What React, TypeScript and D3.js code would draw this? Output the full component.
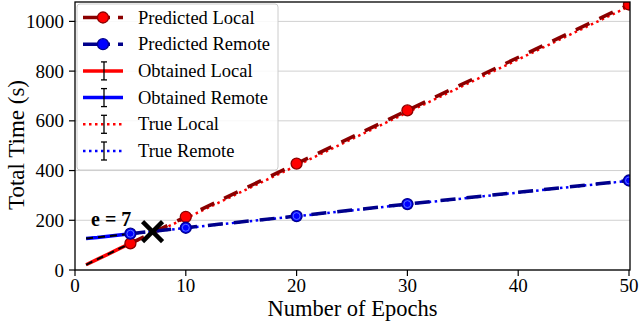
import React from 'react'
import * as d3 from 'd3'

const predEpochs = [5, 10, 20, 30, 50]
const predLocal = [107, 214, 428, 642, 1068]
const predRemote = [146, 170, 217, 265, 360]
const trueLocal = [105, 208, 420, 634, 1060]
const trueRemote = [145, 169, 216, 264, 359]
const trueErr = [4, 5, 6, 8, 10]

const obtEpochs = [1, 2, 3, 4, 5]
const obtLocal = [21, 43, 64, 86, 107]
const obtRemote = [127, 131, 136, 141, 146]

const crossEpoch = 7
const crossTime = 154

const xTicks = [0, 10, 20, 30, 40, 50]
const yTicks = [0, 200, 400, 600, 800, 1000]

const legendItems = [
    { label: 'Predicted Local', kind: 'pred', color: '#8b0000', fill: '#ff0000' },
    { label: 'Predicted Remote', kind: 'pred', color: '#00008b', fill: '#0000ff' },
    { label: 'Obtained Local', kind: 'obt', color: '#ff0000' },
    { label: 'Obtained Remote', kind: 'obt', color: '#0000ff' },
    { label: 'True Local', kind: 'true', color: '#ff0000' },
    { label: 'True Remote', kind: 'true', color: '#0000ff' },
]

const W = 640
const H = 325
const m = { left: 75, right: 630, top: 2, bottom: 270 }
const font = '"Liberation Serif", "Times New Roman", serif'

export default function App() {
    const x = d3.scaleLinear().domain([0, 50]).range([m.left, m.right - 1])
    const y = d3.scaleLinear().domain([0, 1078]).range([m.bottom, m.top])

    const line = d3
        .line<[number, number]>()
        .x((d) => x(d[0]))
        .y((d) => y(d[1]))

    const zip = (a: number[], b: number[]) => a.map((v, i) => [v, b[i]] as [number, number])

    const dashed = '15 11'
    const dotted = '2.5 3.5'

    return (
        <svg width={W} height={H} style={{ position: 'absolute', left: 0, top: 0, background: '#fff' }}>
            <defs>
                <clipPath id="plot">
                    <rect x={m.left} y={m.top} width={m.right - m.left} height={m.bottom - m.top} />
                </clipPath>
            </defs>

            {/* grid */}
            {yTicks.map((t) => (
                <line key={'g' + t} x1={m.left} x2={m.right} y1={y(t)} y2={y(t)} stroke="#d0d0d0" strokeWidth={1} />
            ))}

            <g clipPath="url(#plot)">
                {/* obtained */}
                <path d={line(zip(obtEpochs, obtLocal)) || ''} fill="none" stroke="#ff0000" strokeWidth={3.5} />
                <path d={line(zip(obtEpochs, obtRemote)) || ''} fill="none" stroke="#0000ff" strokeWidth={3.5} />
                <path d={line(zip(obtEpochs, obtLocal)) || ''} fill="none" stroke="#000" strokeWidth={2} strokeDasharray="7 5" />
                <path d={line(zip(obtEpochs, obtRemote)) || ''} fill="none" stroke="#000" strokeWidth={2} strokeDasharray="7 5" />

                {/* true */}
                <path d={line(zip(predEpochs, trueLocal)) || ''} fill="none" stroke="#ff0000" strokeWidth={2.5} strokeDasharray={dotted} />
                <path d={line(zip(predEpochs, trueRemote)) || ''} fill="none" stroke="#0000ff" strokeWidth={2.5} strokeDasharray={dotted} />

                {/* predicted */}
                <path d={line(zip(predEpochs, predLocal)) || ''} fill="none" stroke="#8b0000" strokeWidth={3.5} strokeDasharray={dashed} />
                <path d={line(zip(predEpochs, predRemote)) || ''} fill="none" stroke="#00008b" strokeWidth={3.5} strokeDasharray={dashed} />

                {/* error bars */}
                {predEpochs.map((e, i) => (
                    <g key={'eb' + e} stroke="#000" strokeWidth={1.2}>
                        {[trueLocal[i], trueRemote[i]].map((v, j) => (
                            <g key={j}>
                                <line x1={x(e)} x2={x(e)} y1={y(v - trueErr[i])} y2={y(v + trueErr[i])} />
                                <line x1={x(e) - 3} x2={x(e) + 3} y1={y(v - trueErr[i])} y2={y(v - trueErr[i])} />
                                <line x1={x(e) - 3} x2={x(e) + 3} y1={y(v + trueErr[i])} y2={y(v + trueErr[i])} />
                            </g>
                        ))}
                    </g>
                ))}

                {/* markers */}
                {predEpochs.map((e, i) => (
                    <g key={'mk' + e}>
                        <circle cx={x(e)} cy={y(predLocal[i])} r={5.5} fill="#ff0000" stroke="#8b0000" strokeWidth={1.3} />
                        <circle cx={x(e)} cy={y(predRemote[i])} r={5.5} fill="#0000ff" stroke="#00008b" strokeWidth={1.3} />
                        <circle cx={x(e)} cy={y(predRemote[i])} r={3.5} fill="none" stroke="#6f8cff" strokeWidth={0.8} />
                    </g>
                ))}

                {/* intersection */}
                <g stroke="#000" strokeWidth={4.5}>
                    <line x1={x(crossEpoch) - 10} x2={x(crossEpoch) + 10} y1={y(crossTime) - 10} y2={y(crossTime) + 10} />
                    <line x1={x(crossEpoch) - 10} x2={x(crossEpoch) + 10} y1={y(crossTime) + 10} y2={y(crossTime) - 10} />
                </g>
            </g>

            <text x={x(1.45)} y={226} fontFamily={font} fontSize={20} fontWeight="bold" fill="#000">e = 7</text>

            {/* frame */}
            <rect x={m.left} y={m.top} width={m.right - m.left} height={m.bottom - m.top} fill="none" stroke="#000" strokeWidth={1.3} />

            {/* x axis */}
            {xTicks.map((t) => (
                <g key={'x' + t}>
                    <line x1={x(t)} x2={x(t)} y1={m.bottom} y2={m.bottom + 6} stroke="#000" strokeWidth={1.2} />
                    <text x={x(t)} y={m.bottom + 22} textAnchor="middle" fontFamily={font} fontSize={19}>{t}</text>
                </g>
            ))}
            <text x={(m.left + m.right) / 2} y={316} textAnchor="middle" fontFamily={font} fontSize={22.5}>Number of Epochs</text>

            {/* y axis */}
            {yTicks.map((t) => (
                <g key={'y' + t}>
                    <line x1={m.left - 6} x2={m.left} y1={y(t)} y2={y(t)} stroke="#000" strokeWidth={1.2} />
                    <text x={m.left - 11} y={y(t) + 6.5} textAnchor="end" fontFamily={font} fontSize={19}>{t}</text>
                </g>
            ))}
            <text transform={`translate(24, 145) rotate(-90)`} textAnchor="middle" fontFamily={font} fontSize={23}>Total Time (s)</text>

            {/* legend */}
            <rect x={77} y={4} width={201} height={166} rx={3} fill="#fff" fillOpacity={0.85} stroke="#cccccc" strokeWidth={1} />
            {legendItems.map((it, i) => {
                const cy = 17.5 + i * 26.7
                return (
                    <g key={it.label}>
                        {it.kind === 'pred' && (
                            <g>
                                <line x1={83} x2={123} y1={cy} y2={cy} stroke={it.color} strokeWidth={3.5} strokeDasharray="27 8" />
                                <circle cx={103} cy={cy} r={5.5} fill={it.fill} stroke={it.color} strokeWidth={1.3} />
                            </g>
                        )}
                        {it.kind !== 'pred' && (
                            <g>
                                <line x1={83} x2={123} y1={cy} y2={cy} stroke={it.color} strokeWidth={it.kind === 'obt' ? 3.5 : 2.5} strokeDasharray={it.kind === 'obt' ? undefined : dotted} />
                                <g stroke="#000" strokeWidth={1.3}>
                                    <line x1={104} x2={104} y1={cy - 9} y2={cy + 9} />
                                    <line x1={101} x2={107} y1={cy - 9} y2={cy - 9} />
                                    <line x1={101} x2={107} y1={cy + 9} y2={cy + 9} />
                                </g>
                            </g>
                        )}
                        <text x={138} y={cy + 6} fontFamily={font} fontSize={18.5}>{it.label}</text>
                    </g>
                )
            })}
        </svg>
    )
}
